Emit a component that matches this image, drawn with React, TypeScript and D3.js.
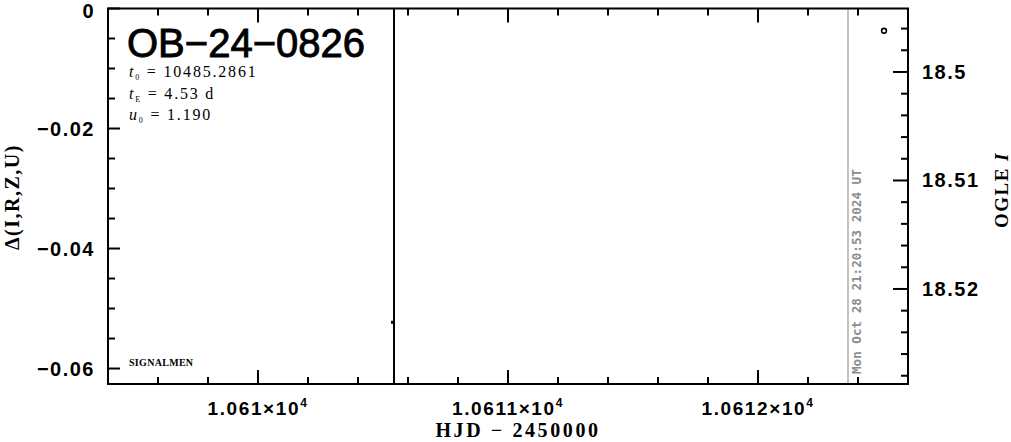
import * as d3 from "d3";

// photometry (HJD - 2450000)
const deltaHjd = [10610.544];
const deltaVal = [-0.0523];
const deltaErr = [0.2];
const ogleHjd = [10612.504];
const ogleMag = [18.4962];
const nowHjd = 10612.36;
const nowLabel = "Mon Oct 28 21:20:53 2024 UT";

const xMajor = [10610, 10611, 10612];
const xMajorLabels = ["1.061", "1.0611", "1.0612"];
const leftMajor = [0, -0.02, -0.04, -0.06];
const leftMajorLabels = ["0", "\u22120.02", "\u22120.04", "\u22120.06"];
const rightMajor = [18.5, 18.51, 18.52];
const rightMajorLabels = ["18.5", "18.51", "18.52"];

const eventName = "OB\u221224\u22120826";
const params = [
  { sym: "t", sub: "0", val: "10485.2861" },
  { sym: "t", sub: "E", val: "4.53 d" },
  { sym: "u", sub: "0", val: "1.190" },
];

const W = 1011, H = 442;
const M = { left: 108, right: 908, top: 8.5, bottom: 384 };

export default function App() {
  const x = d3.scaleLinear().domain([10609.4, 10612.6]).range([M.left, M.right]);
  const yL = d3.scaleLinear().domain([0, -0.06258]).range([M.top, M.bottom]);
  const yR = d3.scaleLinear().domain([18.49415, 18.52876]).range([M.top, M.bottom]);

  const xMinor = d3.range(10609.4, 10612.61, 0.2).filter((v) => !xMajor.some((m) => Math.abs(m - v) < 1e-6));
  const lMinor = d3.range(0, -0.0626, -0.005).filter((v) => !leftMajor.some((m) => Math.abs(m - v) < 1e-9));
  const rMinor = d3.range(18.496, 18.5288, 0.002).filter((v) => !rightMajor.some((m) => Math.abs(m - v) < 1e-9));

  const tick = "#000";
  const numFont = "'Liberation Sans', Arial, sans-serif";
  const serif = "'Liberation Serif', 'Times New Roman', serif";

  return (
    <div style={{ position: "absolute", left: 0, top: 0 }}>
      <svg width={W} height={H} style={{ display: "block", background: "#fff" }}>
        <defs>
          <clipPath id="plot">
            <rect x={M.left} y={M.top} width={M.right - M.left} height={M.bottom - M.top} />
          </clipPath>
        </defs>

        {/* now line */}
        <line x1={x(nowHjd)} x2={x(nowHjd)} y1={M.top} y2={M.bottom} stroke="#9a9a9a" strokeWidth={1.2} />
        <text
          transform={`translate(${x(nowHjd) + 13},${M.bottom - 10}) rotate(-90)`}
          fontFamily="'DejaVu Sans Mono', monospace"
          fontWeight="bold"
          fontSize={12.6}
          fill="#8c8c8c"
        >
          {nowLabel}
        </text>

        {/* data */}
        <g clipPath="url(#plot)">
          {deltaHjd.map((t, i) => (
            <g key={"d" + i}>
              <line x1={x(t)} x2={x(t)} y1={yL(deltaVal[i] + deltaErr[i])} y2={yL(deltaVal[i] - deltaErr[i])} stroke="#000" strokeWidth={2} />
              <rect x={x(t) - 3} y={yL(deltaVal[i]) - 1.5} width={3} height={3} fill="#000" />
            </g>
          ))}
          {ogleHjd.map((t, i) => (
            <circle key={"o" + i} cx={x(t)} cy={yR(ogleMag[i])} r={2.4} fill="none" stroke="#000" strokeWidth={1.6} />
          ))}
        </g>

        {/* frame */}
        <rect x={M.left} y={M.top} width={M.right - M.left} height={M.bottom - M.top} fill="none" stroke="#000" strokeWidth={2} />

        {/* x ticks top & bottom */}
        {xMajor.map((v) => (
          <g key={"xM" + v}>
            <line x1={x(v)} x2={x(v)} y1={M.bottom} y2={M.bottom - 14} stroke={tick} strokeWidth={2} />
            <line x1={x(v)} x2={x(v)} y1={M.top} y2={M.top + 14} stroke={tick} strokeWidth={2} />
          </g>
        ))}
        {xMinor.map((v) => (
          <g key={"xm" + v}>
            <line x1={x(v)} x2={x(v)} y1={M.bottom} y2={M.bottom - 7} stroke={tick} strokeWidth={2} />
            <line x1={x(v)} x2={x(v)} y1={M.top} y2={M.top + 7} stroke={tick} strokeWidth={2} />
          </g>
        ))}
        {xMajor.map((v, i) => (
          <text key={"xl" + v} x={x(v)} y={415} textAnchor="middle" fontFamily={numFont} fontWeight="bold" fontSize={19} letterSpacing={1.6}>
            {xMajorLabels[i]}×10
            <tspan dy={-8} fontSize={12}>4</tspan>
          </text>
        ))}

        {/* left axis */}
        {leftMajor.map((v, i) => (
          <g key={"lM" + v}>
            <line x1={M.left} x2={M.left + 12} y1={yL(v)} y2={yL(v)} stroke={tick} strokeWidth={2} />
            <text x={95} y={Math.max(yL(v) + 7, 17.5)} textAnchor="end" fontFamily={numFont} fontWeight="bold" fontSize={20} letterSpacing={1.5}>
              {leftMajorLabels[i]}
            </text>
          </g>
        ))}
        {lMinor.map((v) => (
          <line key={"lm" + v} x1={M.left} x2={M.left + 7} y1={yL(v)} y2={yL(v)} stroke={tick} strokeWidth={2} />
        ))}

        {/* right axis */}
        {rightMajor.map((v, i) => (
          <g key={"rM" + v}>
            <line x1={M.right} x2={M.right - 15} y1={yR(v)} y2={yR(v)} stroke={tick} strokeWidth={2} />
            <text x={922} y={yR(v) + 7} fontFamily={numFont} fontWeight="bold" fontSize={20} letterSpacing={1.5}>
              {rightMajorLabels[i]}
            </text>
          </g>
        ))}
        {rMinor.map((v) => (
          <line key={"rm" + v} x1={M.right} x2={M.right - 7} y1={yR(v)} y2={yR(v)} stroke={tick} strokeWidth={2} />
        ))}

        {/* axis titles */}
        <text x={(M.left + M.right) / 2 + 10} y={437} textAnchor="middle" fontFamily={serif} fontWeight="bold" fontSize={20} letterSpacing={2.6}>
          HJD {"\u2212"} 2450000
        </text>
        <text transform={`translate(19,197) rotate(-90)`} textAnchor="middle" fontFamily={serif} fontWeight="bold" fontSize={20} letterSpacing={1.5}>
          Δ(I,R,Z,U)
        </text>
        <text transform={`translate(1008,190) rotate(-90)`} textAnchor="middle" fontFamily={serif} fontWeight="bold" fontSize={19} letterSpacing={1.5}>
          OGLE <tspan fontStyle="italic">I</tspan>
        </text>

        {/* event info */}
        <text x={127} y={57} fontFamily={numFont} fontSize={40} stroke="#000" strokeWidth={0.9}>
          {eventName}
        </text>
        {params.map((p, i) => (
          <text key={"p" + i} x={129} y={77 + i * 21.5} fontFamily={serif} fontSize={16} letterSpacing={1.8}>
            <tspan fontStyle="italic">{p.sym}</tspan>
            <tspan fontSize={8} dy={3}>{p.sub}</tspan>
            <tspan dy={-3}>{"  =  " + p.val}</tspan>
          </text>
        ))}
        <text x={129} y={366} fontFamily={serif} fontSize={10} fontWeight="bold" letterSpacing={0.3}>
          SIGNALMEN
        </text>
      </svg>
    </div>
  );
}
